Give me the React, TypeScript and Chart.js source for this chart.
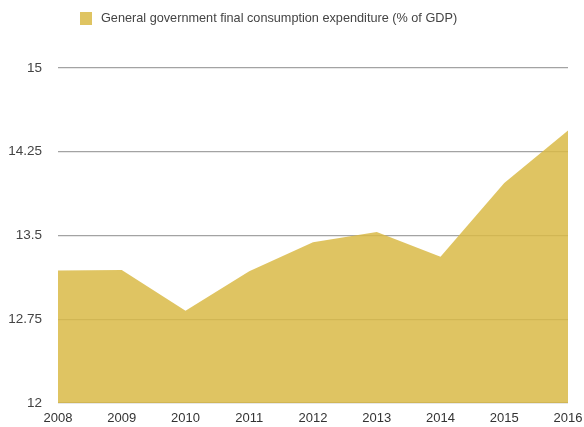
import React, { useEffect, useRef } from "react";
import { Chart, registerables } from "chart.js";

Chart.register(...registerables);

const years = ["2008", "2009", "2010", "2011", "2012", "2013", "2014", "2015", "2016"];
const expenditure = [13.185, 13.19, 12.825, 13.18, 13.44, 13.53, 13.31, 13.97, 14.44];
const yTicks = [12, 12.75, 13.5, 14.25, 15];
const seriesLabel = "General government final consumption expenditure (% of GDP)";

const FILL = "rgba(217,186,70,0.85)";
const FONT = "'Liberation Sans', Arial, Helvetica, sans-serif";

export default function App() {
  const canvasRef = useRef<HTMLCanvasElement | null>(null);

  useEffect(() => {
    document.body.style.margin = "0";
    const ctx = canvasRef.current;
    if (!ctx) return;
    const chart = new Chart(ctx, {
      type: "line",
      data: {
        labels: years,
        datasets: [
          {
            label: seriesLabel,
            data: expenditure,
            fill: "start",
            backgroundColor: FILL,
            borderColor: FILL,
            borderWidth: 0,
            pointRadius: 0,
            tension: 0,
          },
        ],
      },
      options: {
        animation: false,
        responsive: false,
        layout: { padding: { top: 68, left: 0, right: 16, bottom: 0 } },
        plugins: { legend: { display: false }, tooltip: { enabled: false } },
        scales: {
          x: {
            offset: false,
            grid: { display: false, drawTicks: false },
            border: { display: false },
            ticks: {
              color: "#333",
              font: { family: FONT, size: 13 },
              padding: 8,
              maxRotation: 0,
              autoSkip: false,
            },
            afterFit: (s: any) => {
              s.height = 23;
              s.paddingRight = 0;
              s.paddingLeft = 0;
            },
          },
          y: {
            min: 12,
            max: 15,
            afterBuildTicks: (s: any) => {
              s.ticks = yTicks.map((v) => ({ value: v }));
            },
            grid: { color: "#a3a3a3", lineWidth: 1.3, drawTicks: false },
            border: { display: false },
            ticks: {
              color: "#444",
              font: { family: FONT, size: 13.5 },
              padding: 16,
              callback: (v: any) => String(v),
            },
            afterFit: (s: any) => {
              s.width = 58;
            },
          },
        },
      },
    });
    return () => chart.destroy();
  }, []);

  return (
    <div style={{ position: "relative", width: 584, height: 427, background: "#fff" }}>
      <div
        style={{
          position: "absolute",
          left: 80,
          top: 11,
          display: "flex",
          alignItems: "center",
          fontFamily: FONT,
          fontSize: 12.7,
          color: "#444",
          whiteSpace: "nowrap",
        }}
      >
        <span style={{ display: "inline-block", width: 12, height: 13, background: FILL, marginRight: 9 }} />
        <span>{seriesLabel}</span>
      </div>
      <canvas ref={canvasRef} width={584} height={427} style={{ display: "block" }} />
    </div>
  );
}
